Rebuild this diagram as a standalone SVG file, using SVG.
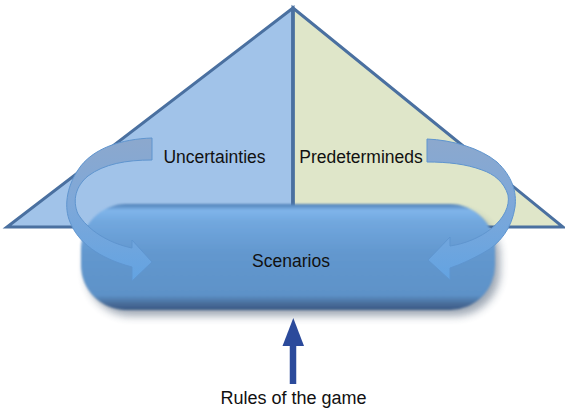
<svg xmlns="http://www.w3.org/2000/svg" width="565" height="410" viewBox="0 0 565 410">
  <defs>
    <style>
      .label { font-family: "Liberation Sans", Arial, sans-serif; font-size: 17.5px; fill: #111; }
      .tri { stroke: #4a70a0; stroke-width: 3; stroke-linejoin: miter; }
      .curl { fill: url(#curlFill); stroke: #5f95cf; stroke-width: 1; }
    </style>
    <linearGradient id="pillFill" x1="0" y1="0" x2="0" y2="1">
      <stop offset="0" stop-color="#4f7fb5"/>
      <stop offset="0.06" stop-color="#80b5ea"/>
      <stop offset="0.16" stop-color="#72a8df"/>
      <stop offset="0.45" stop-color="#6398cf"/>
      <stop offset="0.86" stop-color="#5d92c8"/>
      <stop offset="0.94" stop-color="#486d9a"/>
      <stop offset="1" stop-color="#3a5a85"/>
    </linearGradient>
    <linearGradient id="curlFill" gradientUnits="userSpaceOnUse" x1="0" y1="138" x2="0" y2="282">
      <stop offset="0" stop-color="#8ca8cd"/>
      <stop offset="0.45" stop-color="#7ea8d9"/>
      <stop offset="1" stop-color="#62a3e2"/>
    </linearGradient>
    <filter id="soft" x="-10%" y="-20%" width="120%" height="140%">
      <feGaussianBlur stdDeviation="1.3"/>
    </filter>
    <filter id="shadow" x="-20%" y="-30%" width="140%" height="160%">
      <feGaussianBlur stdDeviation="4"/>
    </filter>
  </defs>

  <rect width="565" height="410" fill="#ffffff"/>

  <!-- two halves of the triangle -->
  <g id="uncertainties">
    <polygon class="tri" points="293,8 7,227 293,227" fill="#a1c3e9"/>
  </g>
  <g id="predetermineds">
    <polygon class="tri" points="293,8 563,227 293,227" fill="#dfe6c9"/>
  </g>
  <line x1="293" y1="8" x2="293" y2="227" stroke="#4a70a0" stroke-width="3.5"/>

  <!-- scenarios capsule -->
  <g id="scenarios">
    <rect x="86" y="212" width="414" height="104" rx="45" fill="#2c3f5c" opacity="0.45" filter="url(#shadow)"/>
    <rect x="81" y="204" width="414" height="106" rx="45" fill="url(#pillFill)" filter="url(#soft)"/>
    <text class="label" x="291" y="267" text-anchor="middle">Scenarios</text>
  </g>

  <text class="label" x="214.5" y="163" text-anchor="middle">Uncertainties</text>
  <text class="label" x="361" y="163" text-anchor="middle">Predetermineds</text>

  <!-- connectors -->
  <g id="connectors">
    <!-- left curl: from Uncertainties round into Scenarios -->
    <path class="curl" d="M152,138 C122,139 92,148 78,170 C66,188 64,208 70,222 C78,242 98,258 132,267 L132,281 L152,262 L132,240 L132,248 C108,243 88,230 78,214 C72,200 76,186 88,176 C104,164 126,160 152,160 Z"/>
    <!-- right curl: from Predetermineds round into Scenarios -->
    <path class="curl" d="M427,139 C452,140 480,148 497,162 C512,176 517,192 515,207 C512,228 500,244 483,253 C472,259 462,264 450,268 L450,280 L428,260 L450,237 L450,246 C464,244 480,238 492,228 C504,218 510,206 508,195 C504,182 494,174 482,170 C466,164 448,162 427,162 Z"/>
    <!-- rules of the game pushing up -->
    <line x1="293" y1="384" x2="293" y2="340" stroke="#2b4a9b" stroke-width="6.5"/>
    <polygon points="293.3,318 282.5,346 304,346" fill="#2b4a9b"/>
  </g>

  <g id="rules">
    <text class="label" x="293.5" y="404" text-anchor="middle" style="font-size:18px">Rules of the game</text>
  </g>
</svg>
